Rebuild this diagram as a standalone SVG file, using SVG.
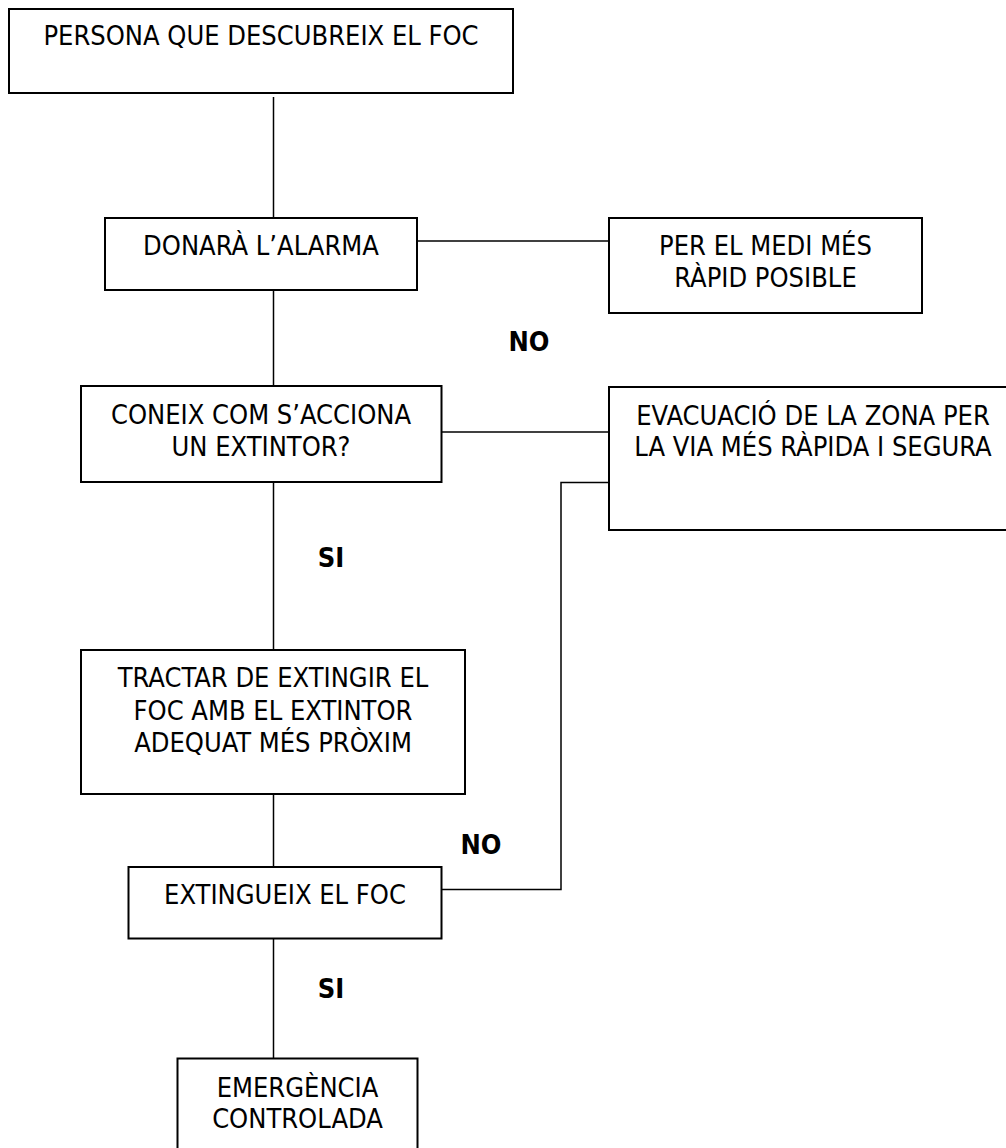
<svg xmlns="http://www.w3.org/2000/svg" width="1006" height="1148" viewBox="0 0 1006 1148">
<style>
.box{fill:#fff;stroke:#000;stroke-width:2}
.t{font-family:'DejaVu Sans Condensed','DejaVu Sans',sans-serif;font-stretch:condensed;font-size:27px;fill:#000;text-anchor:middle}
.b{font-family:'DejaVu Sans Condensed','DejaVu Sans',sans-serif;font-stretch:condensed;font-weight:bold;font-size:27px;fill:#000;text-anchor:middle}
.c{fill:none;stroke:#000;stroke-width:1.5}
</style>
<rect width="1006" height="1148" fill="#fff"/>
<g id="connectors">
<line class="c" x1="273.5" y1="97" x2="273.5" y2="218"/>
<line class="c" x1="417" y1="241" x2="609" y2="241"/>
<line class="c" x1="273.5" y1="290" x2="273.5" y2="386"/>
<line class="c" x1="441.5" y1="432" x2="609" y2="432"/>
<polyline class="c" points="609,482.5 561,482.5 561,889.5 441.5,889.5"/>
<line class="c" x1="273.5" y1="482" x2="273.5" y2="650"/>
<line class="c" x1="273.5" y1="794" x2="273.5" y2="867"/>
<line class="c" x1="273.5" y1="938.5" x2="273.5" y2="1058.5"/>
</g>
<g id="labels">
<text class="b" x="529" y="351">NO</text>
<text class="b" x="331" y="567">SI</text>
<text class="b" x="481" y="854">NO</text>
<text class="b" x="331" y="998">SI</text>
</g>
<g id="n1">
<rect class="box" x="9" y="9" width="504" height="84"/>
<text class="t" x="261" y="45">PERSONA QUE DESCUBREIX EL FOC</text>
</g>
<g id="n2">
<rect class="box" x="105" y="218" width="312" height="72"/>
<text class="t" x="261" y="255">DONARÀ L’ALARMA</text>
</g>
<g id="n3">
<rect class="box" x="609" y="218" width="313" height="95"/>
<text class="t" x="765.5" y="255">PER EL MEDI MÉS</text>
<text class="t" x="765.5" y="287">RÀPID POSIBLE</text>
</g>
<g id="n4">
<rect class="box" x="81" y="386" width="360.5" height="96"/>
<text class="t" x="261" y="424">CONEIX COM S’ACCIONA</text>
<text class="t" x="261" y="456">UN EXTINTOR?</text>
</g>
<g id="n5">
<rect class="box" x="609" y="387" width="410" height="143"/>
<text class="t" x="813" y="425">EVACUACIÓ DE LA ZONA PER</text>
<text class="t" x="813" y="456">LA VIA MÉS RÀPIDA I SEGURA</text>
</g>
<g id="n6">
<rect class="box" x="81" y="650" width="384" height="144"/>
<text class="t" x="273" y="687">TRACTAR DE EXTINGIR EL</text>
<text class="t" x="273" y="720">FOC AMB EL EXTINTOR</text>
<text class="t" x="273" y="752">ADEQUAT MÉS PRÒXIM</text>
</g>
<g id="n7">
<rect class="box" x="128.5" y="867" width="313" height="71.5"/>
<text class="t" x="285" y="904">EXTINGUEIX EL FOC</text>
</g>
<g id="n8">
<rect class="box" x="177.5" y="1058.5" width="240" height="120"/>
<text class="t" x="297.5" y="1097">EMERGÈNCIA</text>
<text class="t" x="297.5" y="1128">CONTROLADA</text>
</g>
</svg>
